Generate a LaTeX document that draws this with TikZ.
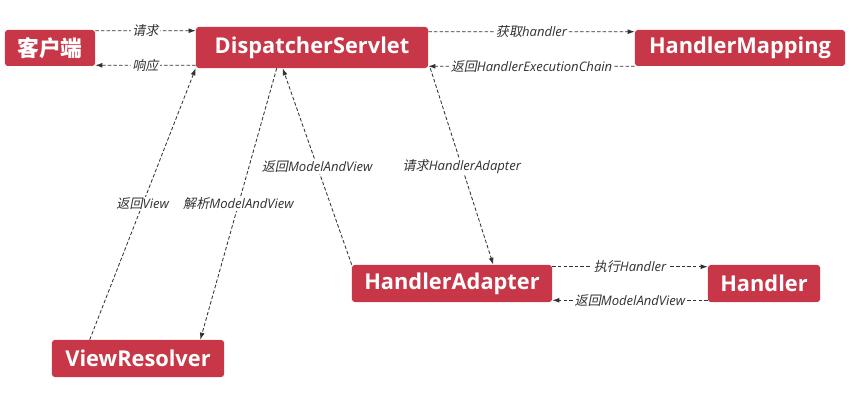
\documentclass[tikz,border=0pt]{standalone}
\usepackage{fontspec}
\setmainfont{Open Sans}
\newfontfamily\cjk{Noto Sans CJK SC}
\newfontfamily\cjkit{Noto Sans CJK SC}[FakeSlant=0.2]
\usetikzlibrary{arrows.meta,calc}
\definecolor{boxred}{RGB}{200,55,72}
\definecolor{flowgray}{RGB}{50,50,50}
\tikzset{
  box/.style={fill=boxred, text=white, rounded corners=2pt, inner sep=0pt,
    font=\fontsize{15.5}{18}\selectfont\bfseries},
  flow/.style={draw=flowgray, dash pattern=on 2.5pt off 1.5pt, line width=0.6pt,
    -{Latex[length=5pt,width=3.5pt]}},
  lbl/.style={fill=white, inner sep=1pt, text=flowgray,
    font=\fontsize{9.3}{11}\selectfont\itshape},
}

\begin{document}
\begin{tikzpicture}[x=0.025cm, y=-0.025cm]
\useasboundingbox (0,0) rectangle (868,405);
% components
\node[box, minimum width=2.25cm, minimum height=0.9cm] (client) at (50,48) {\cjk\bfseries 客户端};
\node[box, minimum width=5.8cm, minimum height=1.025cm] (ds) at (312,47.5) {DispatcherServlet};
\node[box, minimum width=5.25cm, minimum height=0.9cm] (hm) at (740,48) {HandlerMapping};
\node[box, minimum width=5cm, minimum height=0.925cm] (ha) at (452,283.5) {HandlerAdapter};
\node[box, minimum width=2.8cm, minimum height=0.925cm] (handler) at (764,283.5) {Handler};
\node[box, minimum width=4.3cm, minimum height=0.925cm] (vr) at (138,358.5) {ViewResolver};
% request / response
\draw[flow] ($(client.north east)+(0,1)$) -- ($(ds.north west)+(0,4)$) node[lbl, midway] {{\cjkit 请求}};
\draw[flow] ($(ds.south west)+(0,-3)$) -- ($(client.south east)+(0,-1)$) node[lbl, midway] {{\cjkit 响应}};
% handler mapping
\draw[flow] ($(ds.north east)+(0,5)$) -- ($(hm.north west)+(0,2)$) node[lbl, midway] {{\cjkit 获取}handler};
\draw[flow] (hm.south west) -- ($(ds.south east)+(0,-2)$) node[lbl, midway] {{\cjkit 返回}HandlerExecutionChain};
% handler adapter
\draw[flow] ($(ds.south east)+(2,0)$) -- ($(ha.north east)+(-59,0)$) node[lbl, midway] {{\cjkit 请求}HandlerAdapter};
\draw[flow] (ha.north west) -- ($(ds.south west)+(87,0)$) node[lbl, midway] {{\cjkit 返回}ModelAndView};
\draw[flow] ($(ha.north east)+(0,2)$) -- ($(handler.north west)+(0,2)$) node[lbl, midway] {{\cjkit 执行}Handler};
\draw[flow] ($(handler.south west)+(0,-2)$) -- ($(ha.south east)+(0,-2)$) node[lbl, midway] {{\cjkit 返回}ModelAndView};
% view resolver
\draw[flow] ($(ds.south west)+(81,0)$) -- ($(vr.north east)+(-24,0)$) node[lbl, midway] {{\cjkit 解析}ModelAndView};
\draw[flow] ($(vr.north west)+(38,0)$) -- (ds.south west) node[lbl, midway] {{\cjkit 返回}View};
\end{tikzpicture}
\end{document}
